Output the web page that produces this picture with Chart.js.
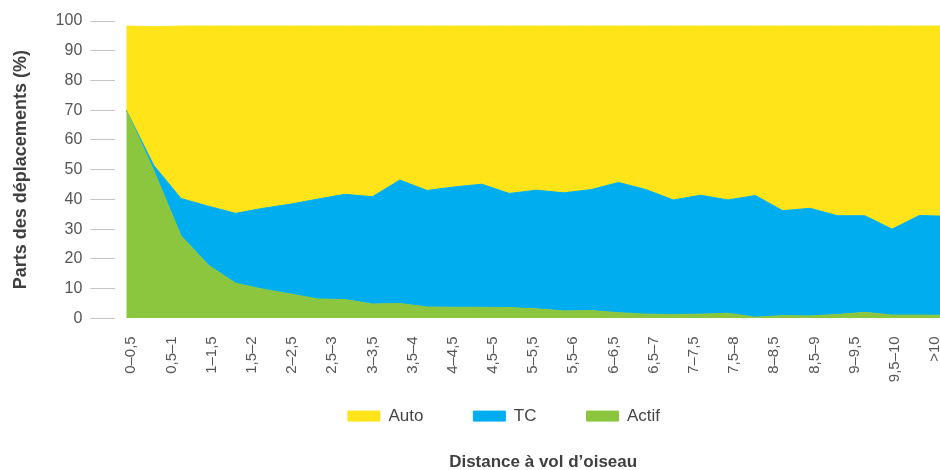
<!DOCTYPE html>
<html>
<head>
<meta charset="utf-8">
<script src="https://cdn.jsdelivr.net/npm/chart.js@4/dist/chart.umd.min.js"></script>
<style>
html,body{margin:0;padding:0;background:#fff;overflow:hidden;width:940px;height:470px}
canvas{display:block}
</style>
</head>
<body>
<canvas id="c" width="1008" height="470" style="width:1008px;height:470px"></canvas>
<script>
// Tick labels of the distance axis (km)
const distLabels = ['0–0,5','0,5–1','1–1,5','1,5–2','2–2,5','2,5–3','3–3,5','3,5–4','4–4,5','4,5–5',
  '5–5,5','5,5–6','6–6,5','6,5–7','7–7,5','7,5–8','8–8,5','8,5–9','9–9,5','9,5–10','>10'];
// Sample points along the distance axis (vertices of the areas)
const samplePoints = [0,1,2,3,4,5,6,7,8,9,10,11,12,13,14,15,16,17,18,19,20,21,22,23,24,25,26,27,28,29,30];
// Shares (%)
const actif = [70.0,49.8,27.8,17.9,11.8,9.8,8.2,6.5,6.3,4.8,5.0,3.8,3.7,3.7,3.6,3.2,2.5,2.6,1.9,1.4,1.3,1.4,1.7,0.4,0.9,0.8,1.3,2.0,1.1,1.1,1.0];
const tc    = [0.0,1.7,12.5,19.8,23.5,27.2,30.2,33.6,35.4,36.1,41.5,39.2,40.5,41.4,38.4,39.9,39.7,40.7,43.8,41.9,38.5,40.0,38.1,40.9,35.3,36.2,33.2,32.5,28.9,33.5,33.3];
const auto  = [28.3,46.6,58.0,60.6,63.0,61.3,59.9,58.2,56.6,57.4,51.8,55.3,54.1,53.2,56.3,55.2,56.1,55.0,52.6,55.0,58.5,56.9,58.5,57.0,62.1,61.3,63.8,63.8,68.3,63.7,64.0];
const yTicks = [0,10,20,30,40,50,60,70,80,90,100];

const YELLOW = '#FEE418', BLUE = '#00AEEF', GREEN = '#8CC63F';
const FONT = "'Liberation Sans', Arial, sans-serif";
Chart.defaults.font.family = FONT;

// The legend row sits partly over the empty lower part of the tick-label band
const LEGEND_OVERLAP = 42.6;
const legendOverlap = {
  id: 'legendOverlap',
  beforeLayout(chart) {
    const lg = chart.legend;
    if (lg && !lg._overlapSet) {
      lg._overlapSet = true;
      const fit = lg.fit;
      lg.fit = function () { fit.call(this); this.height -= LEGEND_OVERLAP; };
    }
  },
  afterLayout(chart) {
    const lg = chart.legend;
    if (lg) { lg.top -= LEGEND_OVERLAP; lg.height += LEGEND_OVERLAP; }
  }
};

const ds = (label, data, color, fill) => ({
  label, data, fill,
  backgroundColor: color, borderColor: color, borderWidth: 1,
  pointRadius: 0, tension: 0, xAxisID: 'x', yAxisID: 'y'
});

new Chart(document.getElementById('c'), {
  type: 'line',
  data: {
    labels: samplePoints,
    datasets: [
      ds('Actif', actif, GREEN, 'origin'),
      ds('TC', tc, BLUE, '-1'),
      ds('Auto', auto, YELLOW, '-1')
    ]
  },
  plugins: [legendOverlap],
  options: {
    responsive: false,
    devicePixelRatio: 1,
    animation: false,
    events: [],
    layout: { padding: { top: 21, left: 0, right: 0, bottom: 0 } },
    scales: {
      x: {
        type: 'linear', display: false, bounds: 'data',
        min: -0.402, max: 30.885
      },
      xLab: {
        type: 'linear', position: 'bottom', bounds: 'data',
        min: -0.398, max: 20.896,
        grid: { display: false, drawTicks: false },
        border: { display: false },
        afterBuildTicks: (s) => { s.ticks = distLabels.map((_, i) => ({ value: i })); },
        ticks: {
          autoSkip: false, minRotation: 90, maxRotation: 90, padding: 18,
          color: '#555', font: { size: 15 },
          callback: (v) => distLabels[v]
        }
      },
      y: {
        stacked: true, min: 0, max: 100,
        afterBuildTicks: (s) => { s.ticks = yTicks.map(v => ({ value: v })); },
        ticks: { padding: 8, color: '#555', font: { size: 16 } },
        grid: { drawOnChartArea: false, tickLength: 25, color: '#c4c4c4', lineWidth: 1 },
        border: { display: false },
        title: {
          display: true, text: 'Parts des déplacements (%)', color: '#3f3f3f',
          font: { size: 18, weight: 'bold' }, padding: { top: 10, bottom: 16 }
        }
      },
      yPad: {
        position: 'right', display: true,
        grid: { display: false }, border: { display: false },
        ticks: { display: false },
        afterFit: (s) => { s.width = 37; }
      }
    },
    plugins: {
      legend: {
        display: true, position: 'bottom', reverse: true,
        labels: { boxWidth: 32, boxHeight: 10, padding: 50, color: '#444', font: { size: 17 } }
      },
      title: {
        display: true, position: 'bottom', fullSize: false,
        text: 'Distance à vol d’oiseau', color: '#3f3f3f',
        font: { size: 17, weight: 'bold' }, padding: { top: 18, bottom: -3 }
      },
      tooltip: { enabled: false }
    }
  }
});
</script>
</body>
</html>
